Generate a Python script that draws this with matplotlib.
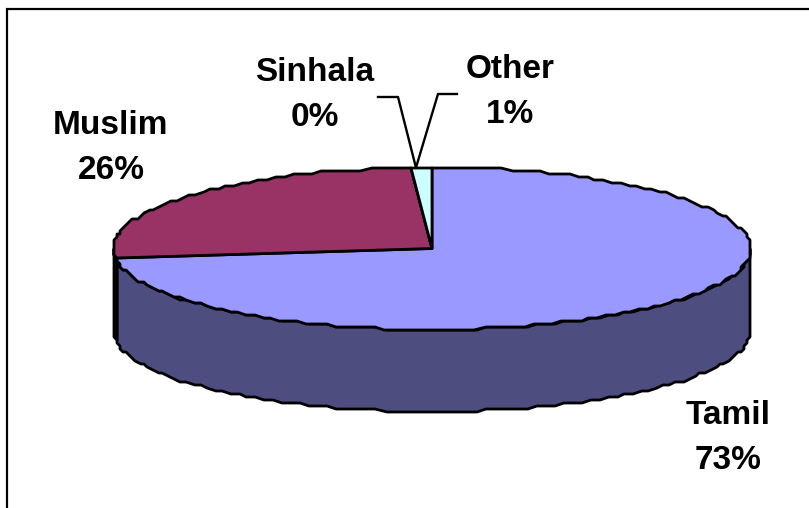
#!/usr/bin/env python3
"""Religion share pie with a thick 3D rim, Excel style."""

import numpy as np
import matplotlib.pyplot as plt
from matplotlib.patches import Polygon

plt.rcParams.update({
    'font.family': ['Liberation Sans', 'DejaVu Sans'],
    'font.weight': 'bold',
})

categories = ['Tamil', 'Muslim', 'Sinhala', 'Other']
shares = [73, 26, 0, 1]
top_colors = ['#9999FF', '#993366', '#FFFFCC', '#CCFFFF']
side_colors = ['#4D4D80', '#4D1A33', '#808066', '#668080']

W, H = 809, 508
CX, CY = 432, 248.5
RX, RY = 319, 81
DEPTH = 82
GRID = 3  # rim is snapped to a coarse grid, gives the stepped outline

fig = plt.figure(figsize=(W / 100, H / 100), dpi=100, facecolor='white')

# background axes works in pixels, for the chart frame, labels and leader lines
bg = fig.add_axes([0, 0, 1, 1])
bg.set_xlim(0, W)
bg.set_ylim(H, 0)
bg.axis('off')
bg.plot([7, 7, W + 5], [H + 5, 9, 9], color='black', lw=1.6, solid_joinstyle='miter')


def rim_point(t):
    # t is clockwise fraction of the pie, starting from 12 o'clock
    a = 2 * np.pi * t
    return CX + RX * np.sin(a), CY - RY * np.cos(a)


def stepped(x, y):
    return np.round(x / GRID) * GRID, np.round(y / GRID) * GRID


# side wall, only the part facing the viewer (quarter past to quarter to)
start = 0.0
for share, color in zip(shares, side_colors):
    end = start + share / sum(shares)
    lo, hi = max(start, 0.25), min(end, 0.75)
    if hi > lo:
        t = np.linspace(lo, hi, max(int((hi - lo) * 200), 2))
        x, y = stepped(*rim_point(t))
        pts = np.r_[np.c_[x, y], np.c_[x[::-1], y[::-1] + DEPTH]]
        bg.add_patch(Polygon(pts, closed=True, facecolor=color, edgecolor='black',
                             lw=2.0, joinstyle='round', zorder=2))
    start = end

# top face
start = 0.0
for share, color in zip(shares, top_colors):
    end = start + share / sum(shares)
    t = np.linspace(start, end, max(int(share * 2), 2))
    x, y = stepped(*rim_point(t))
    pts = np.r_[[[CX, CY]], np.c_[x, y]]
    bg.add_patch(Polygon(pts, closed=True, facecolor=color, edgecolor='black',
                         lw=2.0, joinstyle='round', zorder=3))
    start = end

# leader lines for the two small slices
rim_x, rim_y = rim_point(sum(shares[:2]) / sum(shares))
bg.plot([378, 398, rim_x + 4], [97, 97, rim_y], color='black', lw=1.7, zorder=4)
bg.plot([457, 438, rim_x + 4], [94, 94, rim_y], color='black', lw=1.7, zorder=4)

label_pos = {
    'Tamil': (728, 438),
    'Muslim': (111, 148),
    'Sinhala': (315, 95),
    'Other': (510, 92),
}
for name, share in zip(categories, shares):
    lx, ly = label_pos[name]
    bg.text(lx, ly, f'{name}\n{share}%', ha='center', va='center', fontsize=24,
            fontweight='bold', color='black', linespacing=1.62, zorder=5)

fig.savefig('out.png', dpi=100, facecolor='white')
